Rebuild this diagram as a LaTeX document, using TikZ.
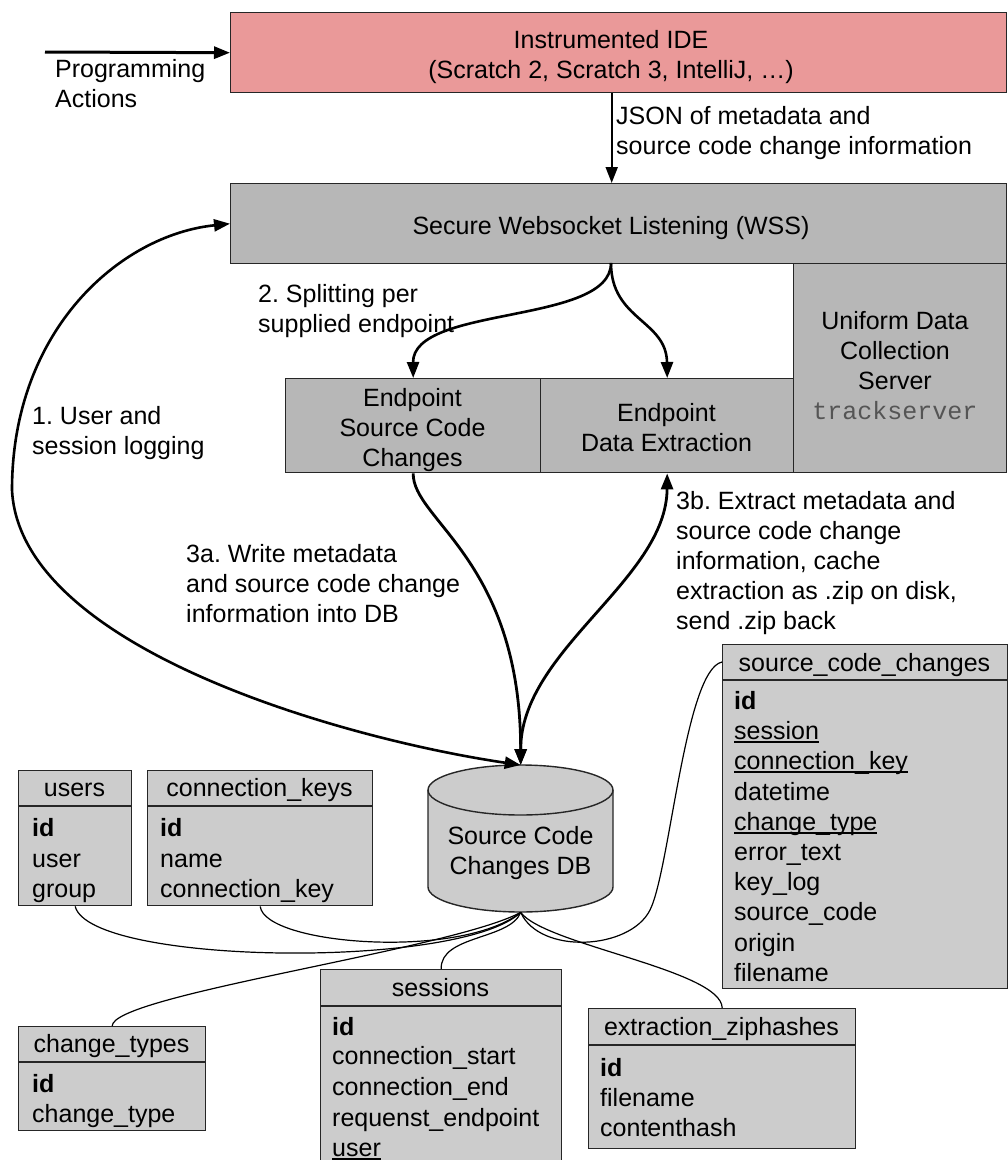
\documentclass[tikz,border=0pt]{standalone}
\usepackage{fontspec}
\setmainfont{Liberation Sans}
\setmonofont{Liberation Mono}
\usetikzlibrary{arrows.meta}
\frenchspacing

\definecolor{idepink}{HTML}{EA9999}
\definecolor{boxgray}{HTML}{B7B7B7}
\definecolor{tblgray}{HTML}{CCCCCC}
\definecolor{tsgray}{HTML}{555555}

% underlined foreign-key field
\newcommand\fkey[1]{\setbox0\hbox{#1}\rlap{\rule[-3.5pt]{\wd0}{1.8pt}}\box0}

\begin{document}
\begin{tikzpicture}[x=1pt,y=-1pt,
  >={Triangle[length=16pt,width=12pt]},
  every node/.append style={font=\fontsize{25}{30}\selectfont, inner sep=0pt},
  box/.style={draw=black!85, line width=1.4pt, fill=boxgray, anchor=north west},
  tbl/.style={draw=black!85, line width=1.4pt, fill=tblgray, anchor=north west},
  hline/.style={draw=black!85, line width=1.4pt},
  hdr/.style={text height=18pt, text depth=5pt},
  row/.style={anchor=west, text height=18pt, text depth=5pt},
  lbl/.style={anchor=north west, align=left},
  ctr/.style={anchor=north, align=center},
  flow/.style={line width=2.6pt, ->},
  link/.style={line width=1.2pt},
]
\useasboundingbox (0,0) rectangle (1008,1160);
\fill[white] (0,0) rectangle (1008,1160);
\clip (0,0) rectangle (1008,1160);

% ---------- server side ----------
\node[box, fill=idepink, minimum width=776, minimum height=80] (ide) at (230,12) {};
\node[ctr] (idet) at (611,30) {Instrumented IDE\\(Scratch 2, Scratch 3, IntelliJ, …)};

\node[box, minimum width=213, minimum height=209] (uni) at (793,263) {};
\node[box, minimum width=776, minimum height=80] (wss) at (230,183) {};
\node[ctr] (wsst) at (611,216) {Secure Websocket Listening (WSS)};
\node[ctr] (unit) at (895,311) {Uniform Data\\Collection\\Server\\{\ttfamily\color{tsgray}trackserver}};

\node[box, minimum width=255, minimum height=94] (epscc) at (285,378) {};
\node[ctr] (epscct) at (412.5,388) {Endpoint\\Source Code\\Changes};
\node[box, minimum width=253, minimum height=94] (epde) at (540,378) {};
\node[ctr] (epdet) at (666.5,403) {Endpoint\\Data Extraction};

% ---------- database cylinder ----------
\path[draw=black!85, line width=1.4pt, fill=tblgray]
  (428,790) -- (428,887)
  arc[start angle=180, end angle=360, x radius=92.5pt, y radius=25pt]
  -- (613,790)
  arc[start angle=0, end angle=180, x radius=92.5pt, y radius=25pt] -- cycle;
\draw[black!85, line width=1.4pt] (428,790)
  arc[start angle=180, end angle=360, x radius=92.5pt, y radius=25pt];
\node[minimum width=185, minimum height=147, anchor=north west] (db) at (428,765) {};
\node[ctr] (dbt) at (520.5,826) {Source Code\\Changes DB};

% ---------- labels ----------
\node[lbl] (pat) at (55,59) {Programming\\Actions};
\node[lbl] (jsont) at (616,106) {JSON of metadata and\\source code change information};
\node[lbl] (splitt) at (258,284) {2. Splitting per\\supplied endpoint};
\node[lbl] (usert) at (32,406) {1. User and\\session logging};
\node[lbl] (writet) at (186,544) {3a. Write metadata\\and source code change\\information into DB};
\node[lbl] (extrt) at (676,491) {3b. Extract metadata and\\source code change\\information, cache\\extraction as .zip on disk,\\send .zip back};

% ---------- flows ----------
\coordinate (pa) at (45,52);
\draw[flow, line width=3pt] (pa) -- (ide.west);
\draw[flow, line width=2pt] (ide.south -| wss.north) ++(-7,0) coordinate (jtop) -- (jtop |- wss.north);
\draw[flow, <->] (db.north) .. controls (350,740) and (20,650) .. (12,490)
  .. controls (12,330) and (120,235) .. (wss.west);
\coordinate (split) at (611,263);
\draw[flow] (split) .. controls (611,325) and (412.5,305) .. (epscc.north);
\draw[flow] (split) .. controls (611,320) and (666.5,320) .. (epde.north);
\draw[flow, line width=2.8pt] (epscc.south) .. controls (412.5,520) and (520.5,560) .. (db.north);
\draw[flow, line width=2.8pt, <->] (db.north) .. controls (520.5,650) and (666.5,580) .. (epde.south);

% ---------- tables ----------
% users
\node[tbl, minimum width=113, minimum height=135] (users) at (18,770) {};
\draw[hline] (18,806) -- (131,806);
\node[hdr] (usersh) at (74.5,790) {users};
\node[row] (u1) at (32,829.5) {\textbf{id}};
\node[row] (u2) at (32,860.5) {user};
\node[row] (u3) at (32,890.5) {group};

% connection_keys
\node[tbl, minimum width=225, minimum height=135] (connk) at (147,770) {};
\draw[hline] (147,806) -- (372,806);
\node[hdr] (connkh) at (259.5,790) {connection\_keys};
\node[row] (k1) at (160,829.5) {\textbf{id}};
\node[row] (k2) at (160,860.5) {name};
\node[row] (k3) at (160,890.5) {connection\_key};

% change_types
\node[tbl, minimum width=187, minimum height=104] (ctypes) at (18,1026) {};
\draw[hline] (18,1062) -- (205,1062);
\node[hdr] (ctypesh) at (111.5,1046) {change\_types};
\node[row] (c1) at (32,1085.5) {\textbf{id}};
\node[row] (c2) at (32,1115.5) {change\_type};

% sessions
\node[tbl, minimum width=241, minimum height=210] (sess) at (320,969) {};
\draw[hline] (320,1006) -- (561,1006);
\node[hdr] (sessh) at (440.5,990) {sessions};
\node[row] (s1) at (332,1028.5) {\textbf{id}};
\node[row] (s2) at (332,1057.5) {connection\_start};
\node[row] (s3) at (332,1088.5) {connection\_end};
\node[row] (s4) at (332,1119.5) {requenst\_endpoint};
\node[row] (s5) at (332,1149.5) {\fkey{user}};

% extraction_ziphashes
\node[tbl, minimum width=267, minimum height=140] (ext) at (588,1008) {};
\draw[hline] (588,1045) -- (855,1045);
\node[hdr] (exth) at (721.5,1029) {extraction\_ziphashes};
\node[row] (e1) at (600,1069.5) {\textbf{id}};
\node[row] (e2) at (600,1099.5) {filename};
\node[row] (e3) at (600,1129.5) {contenthash};

% source_code_changes
\node[tbl, minimum width=285, minimum height=344] (scc) at (722,644) {};
\draw[hline] (722,680) -- (1007,680);
\node[hdr] (scch) at (864.5,664.5) {source\_code\_changes};
\node[row] (r1) at (734,702.5) {\textbf{id}};
\node[row] (r2) at (734,732.5) {\fkey{session}};
\node[row] (r3) at (734,762.5) {\fkey{connection\_key}};
\node[row] (r4) at (734,793.5) {datetime};
\node[row] (r5) at (734,823.5) {\fkey{change\_type}};
\node[row] (r6) at (734,853.5) {error\_text};
\node[row] (r7) at (734,883.5) {key\_log};
\node[row] (r8) at (734,913.5) {source\_code};
\node[row] (r9) at (734,944.5) {origin};
\node[row] (r10) at (734,974.5) {filename};
\coordinate (sccport) at (722,662);

% ---------- relations ----------
\draw[link] (users.south) .. controls (90,965) and (460,970) .. (db.south);
\draw[link] (connk.south) .. controls (265,945) and (460,960) .. (db.south);
\draw[link] (ctypes.north) .. controls (112,995) and (450,950) .. (db.south);
\draw[link] (sess.north) .. controls (440,935) and (510,940) .. (db.south);
\draw[link] (db.south) .. controls (545,945) and (721.5,970) .. (ext.north);
\draw[link] (db.south) .. controls (540,955) and (630,950) .. (650,910)
  .. controls (670,870) and (685,670) .. (sccport);
\end{tikzpicture}
\end{document}
